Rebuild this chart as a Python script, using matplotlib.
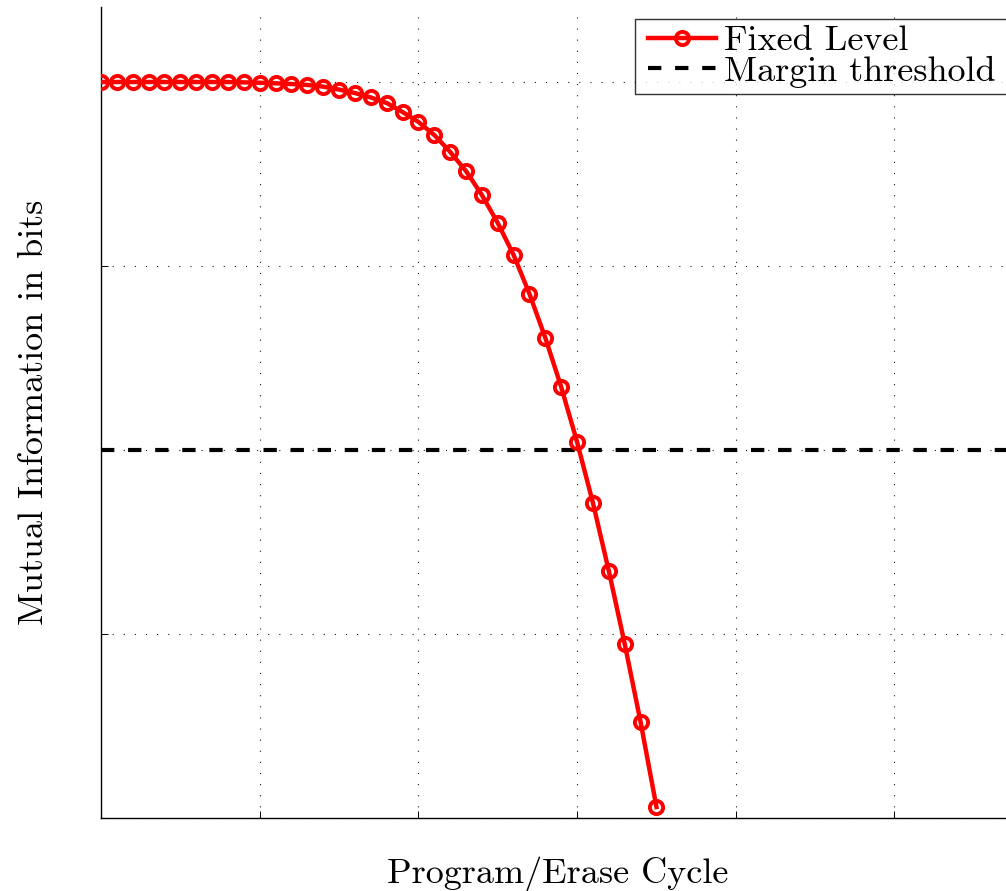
import matplotlib
matplotlib.use("Agg")
import matplotlib.pyplot as plt
from matplotlib.lines import Line2D
from matplotlib.legend_handler import HandlerLine2D

plt.rcParams["font.family"] = ["cmr10", "DejaVu Serif"]
plt.rcParams["axes.formatter.use_mathtext"] = True

# P/E cycle axis (arbitrary units) and mutual information of the fixed-level read
cycles = [0.0, 0.1, 0.2, 0.3, 0.4, 0.5, 0.6, 0.7, 0.8, 0.9,
          1.0, 1.1, 1.2, 1.3, 1.4, 1.5, 1.6, 1.7, 1.8, 1.9,
          2.0, 2.1, 2.2, 2.3, 2.4, 2.5, 2.6, 2.7, 2.8, 2.9,
          3.0, 3.1, 3.2, 3.3, 3.4, 3.5]
mutual_info = [4.000, 4.000, 4.000, 4.000, 4.000, 4.000, 4.000, 4.000, 4.000, 3.998,
               3.996, 3.993, 3.989, 3.984, 3.975, 3.959, 3.940, 3.916, 3.886, 3.837,
               3.783, 3.712, 3.620, 3.516, 3.386, 3.234, 3.060, 2.848, 2.609, 2.342,
               2.043, 1.712, 1.342, 0.946, 0.522, 0.060]
threshold = 2.0

x_ticks = [0, 1, 2, 3, 4, 5]
y_ticks = [0, 1, 2, 3, 4]

W, H = 1006, 891
fig = plt.figure(figsize=(W / 100, H / 100), dpi=100)
# axes run past the right edge of the canvas
left, right, bottom, top = 101, 1020, 818, 7
ax = fig.add_axes([left / W, (H - bottom) / H, (right - left) / W, (bottom - top) / H])

ax.plot(cycles, mutual_info, color="red", lw=3.2, marker="o", markersize=9.5,
        markerfacecolor="none", markeredgewidth=2.8, label="Fixed Level", zorder=3)
ax.axhline(threshold, color="black", lw=3.0, dashes=(3.2, 3.3), label="Margin threshold", zorder=2)

ax.set_xlim(0, (right - left) / 158.7)
ax.set_ylim(0, (bottom - top) / 184.0)
ax.set_xticks(x_ticks)
ax.set_yticks(y_ticks)
ax.set_xticklabels([])
ax.set_yticklabels([])
ax.tick_params(direction="in", length=5, width=0.7, colors="black")
ax.grid(True, color="0.1", lw=0.8, linestyle=(0, (1, 9)))
ax.spines["top"].set_visible(False)
ax.spines["right"].set_visible(False)
for s in ("left", "bottom"):
    ax.spines[s].set_linewidth(1.0)

fig.text(558 / W, 1 - 883 / H, "Program/Erase Cycle", fontsize=26,
         ha="center", va="baseline")
fig.text(43 / W, 1 - 412 / H, "Mutual Information in bits", fontsize=26,
         ha="center", va="baseline", rotation=90, rotation_mode="anchor")

# legend box stretched past the right edge, handles inset from its left border
leg_x0, leg_x1, leg_top = 635, 1014, 19
leg = ax.legend(loc="upper left",
                bbox_to_anchor=(leg_x0 / W, 1 - leg_top / H, (leg_x1 - leg_x0) / W, 0),
                bbox_transform=fig.transFigure, mode="expand",
                fontsize=26, frameon=True, fancybox=False,
                borderpad=0.17, labelspacing=-0.05,
                handlelength=2.08, handletextpad=0.22, borderaxespad=0,
                handler_map={Line2D: HandlerLine2D(xpad=0.19)})
leg.get_frame().set_edgecolor("black")
leg.get_frame().set_linewidth(1.0)

fig.savefig("out.png", dpi=100)
